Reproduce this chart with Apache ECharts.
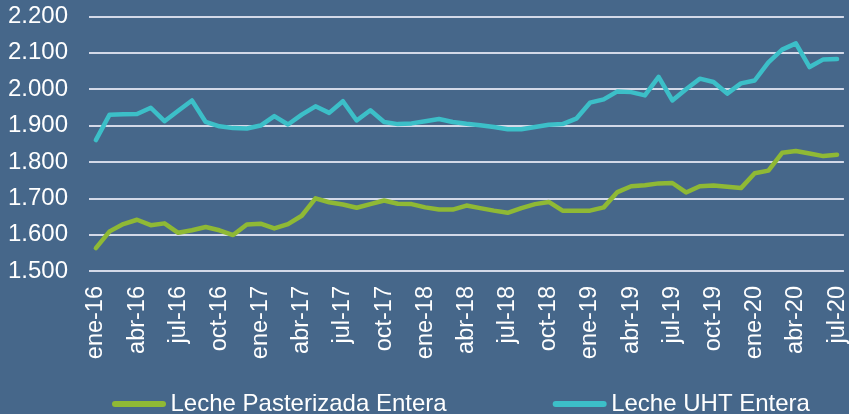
<!DOCTYPE html>
<html lang="es">
<head>
  <meta charset="UTF-8">
  <script src="https://cdn.jsdelivr.net/npm/echarts@6/dist/echarts.min.js"></script>
  <title>Leche</title>
  <style>
    html, body { margin: 0; padding: 0; background: #46678a; }
  </style>
</head>
<body>
  <div id="chart" style="width: 849px; height: 414px;"></div>
  <script>
    // month abbreviations and years used for the category axis
    var monthNames = ['ene', 'feb', 'mar', 'abr', 'may', 'jun', 'jul', 'ago', 'sep', 'oct', 'nov', 'dic'];
    var years = ['16', '17', '18', '19', '20'];

    // precio promedio ($) — ene-16 .. jul-20
    var pasterizada = [1563, 1609, 1629, 1641, 1626, 1631, 1605, 1612, 1621, 1612, 1599, 1628, 1630, 1617,
      1629, 1652, 1700, 1689, 1683, 1674, 1684, 1694, 1685, 1684, 1675, 1669, 1669, 1680,
      1673, 1666, 1660, 1673, 1684, 1690, 1666, 1666, 1666, 1675, 1717, 1733, 1736, 1741,
      1742, 1716, 1733, 1735, 1732, 1728, 1769, 1776, 1825, 1830, 1823, 1816, 1820];
    var uht = [1860, 1930, 1931, 1932, 1949, 1912, 1941, 1969, 1910, 1898, 1893, 1892, 1900, 1926,
      1903, 1930, 1953, 1935, 1967, 1914, 1942, 1910, 1904, 1906, 1912, 1918, 1910, 1905,
      1901, 1896, 1890, 1890, 1896, 1902, 1904, 1919, 1963, 1972, 1994, 1992, 1983, 2034,
      1969, 2000, 2029, 2020, 1988, 2016, 2024, 2074, 2109, 2126, 2061, 2082, 2083];

    var seriesNames = ['Leche Pasterizada Entera', 'Leche UHT Entera'];
    var colors = ['#8fb935', '#3cbfc8'];

    var categories = [];
    for (var i = 0; i < pasterizada.length; i++) {
      categories.push(monthNames[i % 12] + '-' + years[Math.floor(i / 12)]);
    }

    var chart = echarts.init(document.getElementById('chart'));
    var font = 'Liberation Sans, Arial, sans-serif';
    var pill = 'path://M3,0 L51,0 A3,3 0 0 1 51,6 L3,6 A3,3 0 0 1 3,0 Z';

    chart.setOption({
      backgroundColor: '#46678a',
      animation: false,
      textStyle: { fontFamily: font },
      grid: { left: 89, right: 0, top: 16.5, bottom: 143 },
      legend: {
        left: 107,
        top: 387,
        itemWidth: 57,
        itemHeight: 6,
        itemGap: 106,
        textStyle: { color: '#ffffff', fontSize: 24, fontFamily: font, padding: [0, 0, 0, -2] },
        data: [
          { name: seriesNames[0], icon: pill, itemStyle: { color: colors[0] } },
          { name: seriesNames[1], icon: pill, itemStyle: { color: colors[1] } }
        ]
      },
      xAxis: {
        type: 'category',
        data: categories,
        boundaryGap: true,
        axisLine: { show: false },
        axisTick: { show: false },
        axisLabel: {
          interval: 2,
          rotate: 90,
          margin: 15,
          color: '#ffffff',
          fontSize: 23.5,
          fontFamily: font
        }
      },
      yAxis: {
        type: 'value',
        min: 1500,
        max: 2200,
        interval: 100,
        axisLine: { show: false },
        axisTick: { show: false },
        axisLabel: {
          margin: 21,
          color: '#ffffff',
          fontSize: 24,
          fontFamily: font,
          formatter: function (v) {
            return String(v).replace(/\B(?=(\d{3})+(?!\d))/g, '.');
          }
        },
        splitLine: { lineStyle: { color: '#d3d9e8', width: 2 } }
      },
      series: [
        {
          name: seriesNames[0],
          type: 'line',
          data: pasterizada,
          symbol: 'none',
          lineStyle: { color: colors[0], width: 4.5, join: 'round', cap: 'round' },
          itemStyle: { color: colors[0] }
        },
        {
          name: seriesNames[1],
          type: 'line',
          data: uht,
          symbol: 'none',
          lineStyle: { color: colors[1], width: 4.5, join: 'round', cap: 'round' },
          itemStyle: { color: colors[1] }
        }
      ]
    });
  </script>
</body>
</html>
